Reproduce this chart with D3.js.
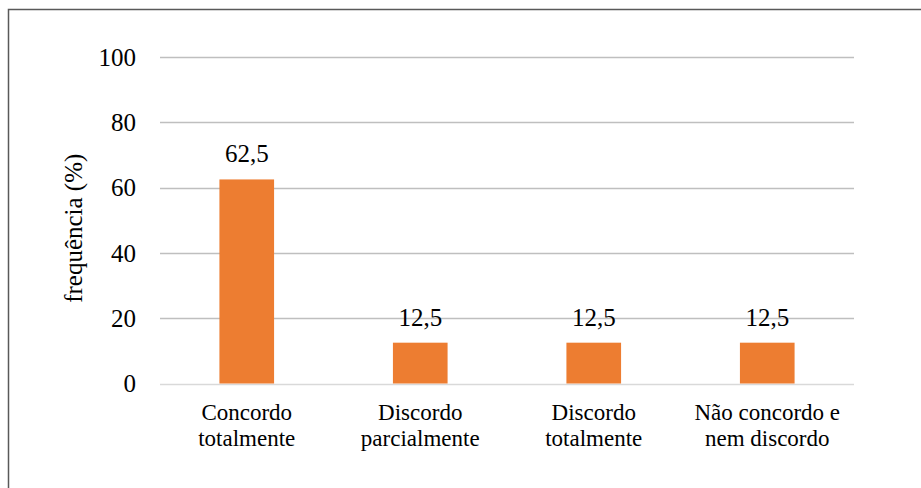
<!DOCTYPE html>
<html>
<head>
<meta charset="utf-8">
<script src="https://d3js.org/d3.v7.min.js"></script>
<style>
  body { margin: 0; background: #fff; }
  svg text { font-family: "Times New Roman", "Liberation Serif", Times, serif; fill: #000; }
</style>
</head>
<body>
<svg id="chart" width="921" height="488"></svg>
<script>
const categories = [["Concordo", "totalmente"], ["Discordo", "parcialmente"], ["Discordo", "totalmente"], ["Não concordo e", "nem discordo"]];
const values = [62.5, 12.5, 12.5, 12.5];
const yTicks = [0, 20, 40, 60, 80, 100];

const svg = d3.select("#chart");
const plotLeft = 160, plotRight = 854, plotTop = 57, plotBottom = 383.5;

// outer frame
svg.append("rect")
    .attr("x", 8.5).attr("y", 9.5)
    .attr("width", 1000).attr("height", 1000)
    .attr("fill", "none")
    .attr("stroke", "#595959")
    .attr("stroke-width", 1.5);

const x = d3.scaleBand()
    .domain(d3.range(categories.length))
    .range([plotLeft, plotRight])
    .paddingInner(0.685)
    .paddingOuter(0.3425);

const y = d3.scaleLinear().domain([0, 100]).range([plotBottom, plotTop]);

// gridlines
svg.append("g")
    .selectAll("line")
    .data(yTicks)
    .enter().append("line")
    .attr("x1", plotLeft).attr("x2", plotRight)
    .attr("y1", d => Math.round(y(d)) + 0.5)
    .attr("y2", d => Math.round(y(d)) + 0.5)
    .attr("stroke", d => d === 0 ? "#d9d9d9" : "#bfbfbf")
    .attr("stroke-width", 1.3);

// tick labels
svg.append("g")
    .selectAll("text")
    .data(yTicks)
    .enter().append("text")
    .attr("x", 136)
    .attr("y", d => y(d))
    .attr("dy", "0.35em")
    .attr("text-anchor", "end")
    .style("font-size", "25px")
    .text(d => d);

// bars
svg.append("g")
    .selectAll("rect")
    .data(values)
    .enter().append("rect")
    .attr("x", (d, i) => x(i))
    .attr("y", d => y(d))
    .attr("width", x.bandwidth())
    .attr("height", d => y(0) - y(d))
    .attr("fill", "#ed7d31");

// value labels
svg.append("g")
    .selectAll("text")
    .data(values)
    .enter().append("text")
    .attr("x", (d, i) => x(i) + x.bandwidth() / 2)
    .attr("y", d => y(d) - 17)
    .attr("text-anchor", "middle")
    .style("font-size", "25px")
    .text(d => String(d).replace(".", ","));

// category labels
const cat = svg.append("g")
    .selectAll("text")
    .data(categories)
    .enter().append("text")
    .attr("x", (d, i) => x(i) + x.bandwidth() / 2)
    .attr("y", 420)
    .attr("text-anchor", "middle")
    .style("font-size", "23px");
cat.selectAll("tspan")
    .data(d => d)
    .enter().append("tspan")
    .attr("x", function() { return d3.select(this.parentNode).attr("x"); })
    .attr("dy", (d, i) => i === 0 ? 0 : 26)
    .text(d => d);

// y axis title
svg.append("text")
    .attr("transform", "translate(82," + ((plotTop + plotBottom) / 2 + 8) + ") rotate(-90)")
    .attr("text-anchor", "middle")
    .style("font-size", "25px")
    .text("frequência (%)");
</script>
</body>
</html>
